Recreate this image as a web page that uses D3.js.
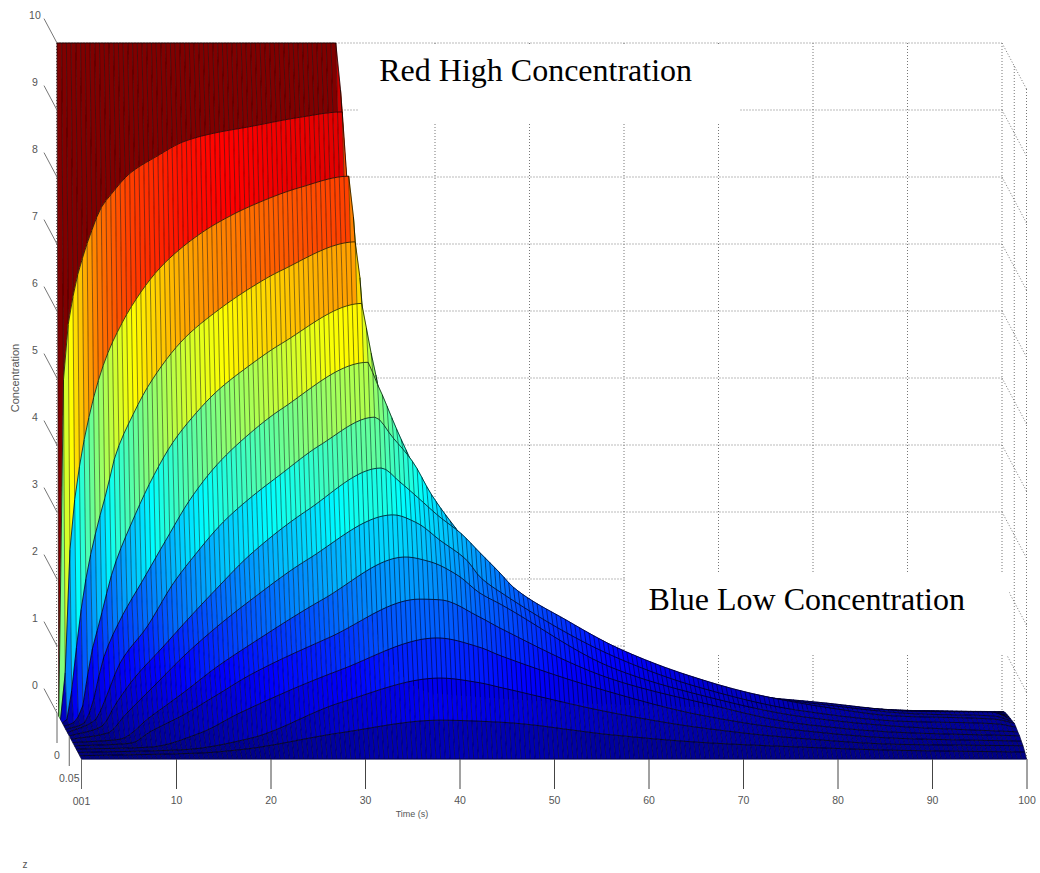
<!DOCTYPE html>
<html><head><meta charset="utf-8">
<style>html,body{margin:0;background:#fff}svg{display:block}</style>
<script src="https://cdnjs.cloudflare.com/ajax/libs/d3/7.8.5/d3.min.js"></script></head>
<body><svg id="c" width="1040" height="873"></svg>
<script>
// each slice: readings [time, concentration] at one depth z
const slice0=[[0,10],[29.5,10],[30,9.3],[30.5,8.2],[31,5],[32,2],[40,.3],[100,0]];
const slice1=[[0,0],[.5,5.02],[1.5,6.26],[2.6,6.88],[3.6,7.29],[4.4,7.57],[5.6,7.8],[7.5,8.1],[10.4,8.36],[13.1,8.57],[16,8.69],[20.2,8.8],[25.5,8.94],[30,9.02],[30.5,8],[31,6],[32,4],[35,2],[40,1.2],[50,.7],[70,.25],[80,.14],[90,.08],[100,.07]];
const slice2=[[0,0],[.5,.7],[1,2.53],[2,3.77],[3.12,4.58],[4.18,5.14],[5.24,5.55],[6.08,5.8],[7.35,6.13],[10.2,6.69],[12.3,6.98],[15.3,7.3],[17.2,7.46],[20.05,7.66],[25.3,7.94],[30.5,8.11],[31.2,7.13],[31.5,6.5],[32,5.5],[33,4.4],[35,3],[40,1.7],[50,.9],[70,.3],[80,.2],[90,.13],[98,.11],[100,.1]];
const slice3=[[0,0],[.5,.05],[1.14,.64],[1.67,1.34],[2.62,2.24],[3.68,2.92],[4.74,3.48],[5.58,3.97],[7.49,4.6],[9.29,5.07],[12.8,5.72],[16.4,6.15],[19.9,6.49],[23,6.74],[31.1,7.18],[31.7,6.27],[32.5,5],[34,3.8],[36,3],[40,2.1],[50,1.1],[70,.4],[80,.25],[90,.17],[98,.15],[100,.12]];
const slice4=[[0,0],[1,.05],[2,.31],[2.75,.99],[3.81,1.58],[5.19,2.33],[7.3,3.08],[9.42,3.72],[11.5,4.23],[13.65,4.62],[16.2,5],[19.7,5.39],[22.9,5.7],[31.6,6.31],[32.2,5.73],[32.7,5.46],[33.4,4.94],[35,4.12],[37.7,2.93],[45,1.7],[50,1.3],[70,.5],[80,.33],[90,.23],[98,.21],[100,.14]];
const slice5=[[0,0],[2,.1],[2.78,.36],[3.94,1.04],[5.74,1.63],[8.17,2.23],[10.7,2.85],[13.15,3.43],[16,3.95],[19.5,4.42],[22.7,4.77],[32,5.48],[32.7,5.24],[33.6,4.96],[34.3,4.72],[35.05,4.47],[37.5,3.72],[40.7,2.75],[50,1.6],[70,.55],[80,.4],[90,.27],[98,.26],[100,.155]];
const slice6=[[0,0],[3,.2],[3.97,.49],[5.56,1.04],[8.41,1.58],[11.2,2.23],[13.3,2.62],[16.45,3.14],[19.3,3.5],[22.5,3.85],[26.7,4.29],[32.5,4.71],[34.4,4.41],[36.6,4.03],[38.4,3.58],[39.4,3.37],[41.2,3.03],[43.6,2.58],[50,1.75],[60,1.05],[70,.62],[80,.42],[90,.28],[98,.25],[100,.17]];
const slice7=[[0,0],[3.5,.15],[4.84,.46],[6.75,.84],[9.92,1.33],[12.8,1.78],[15.6,2.2],[19.1,2.7],[25.2,3.37],[33,4],[35,3.79],[36.8,3.57],[39.2,3.27],[41.4,3.03],[43.5,2.73],[45.6,2.43],[47,2.22],[52.6,1.73],[58.1,1.31],[65.4,.91],[72.7,.62],[80,.43],[87.3,.3],[98,.25],[100,.19]];
const slice8=[[0,0],[4,.1],[5.71,.36],[9.1,.84],[11.85,1.23],[15.45,1.68],[18.95,2.07],[25,2.68],[34.1,3.35],[36.6,3.23],[39.05,2.97],[41.9,2.67],[43.3,2.42],[45.4,2.2],[57.4,1.24],[66.6,.77],[77.1,.43],[87.7,.27],[98,.23],[100,.18]];
const slice9=[[0,0],[5,.05],[8.17,.38],[11.67,.74],[15.26,1.13],[18.75,1.46],[26.5,2.14],[35.2,2.77],[37.8,2.7],[40.7,2.5],[43.1,2.23],[45.2,2.07],[57.2,1.11],[66.4,.71],[77,.39],[87.5,.24],[100,.16]];
const slice10=[[0,0],[6,.04],[8,.21],[11.5,.46],[15.08,.76],[18.6,1.06],[27,1.62],[36.5,2.19],[38.7,2.18],[42.9,1.92],[45,1.76],[57,.99],[66.2,.65],[76.8,.33],[87.4,.2],[100,.15]];
const slice11=[[0,0],[7.8,.03],[13.1,.24],[17.3,.54],[27.9,1.18],[38.2,1.66],[42.7,1.52],[44.8,1.4],[56.8,.84],[66,.51],[76.6,.28],[87.2,.16],[100,.12]];
const slice12=[[0,0],[11.1,.04],[18.2,.21],[27.7,.74],[38.3,1.11],[42.5,1.04],[44.7,.97],[56.6,.59],[65.8,.37],[76.4,.21],[87,.12],[100,.1]];
const slice13=[[0,0],[12.7,.04],[17,.09],[27.5,.34],[38.1,.53],[44.5,.5],[56.4,.31],[65.6,.2],[76.1,.13],[86.8,.08],[100,.055]];
const slice14=[[0,0],[100,0]];
const slices=[slice0,slice1,slice2,slice3,slice4,slice5,slice6,slice7,slice8,slice9,slice10,slice11,slice12,slice13,slice14];
const sliceDepths=[0,.00714,.01429,.02143,.02857,.03571,.04286,.05,.05714,.06429,.07143,.07857,.08571,.09286,.1];
const concentrationTicks=[0,1,2,3,4,5,6,7,8,9,10];
const timeTicks=[10,20,30,40,50,60,70,80,90,100];
const rearGridTimes=[40,50,60,70,80,90];
const depthTicks=[0,.05,.1];
const depthLabels=["0","0.05","001"];
const notes=[{text:"Red High Concentration",t:34.1,c:9.44},{text:"Blue Low Concentration",t:62.6,c:1.54}];

const svg=d3.select("#c");
const xT=d3.scaleLinear().domain([0,100]).range([57,1002]);
const yC=d3.scaleLinear().domain([0,10]).range([713,43]);
const zX=d3.scaleLinear().domain([0,.1]).range([0,24.5]);
const zY=d3.scaleLinear().domain([0,.1]).range([0,46]);
const px=(t,z)=>xT(t)+zX(z), py=(c,z)=>yC(c)+zY(z);
const jet=d3.scaleLinear().domain([0,1.25,3.75,6.25,8.75,10])
  .range(["#000080","#0000ff","#00ffff","#ffff00","#ff0000","#800000"]);

// shape-preserving reading of a slice between its measured points (Fritsch-Carlson)
function reader(s){
  const n=s.length,X=s.map(d=>d[0]),Y=s.map(d=>d[1]);
  const h=[],m=[];for(let i=0;i<n-1;i++){h[i]=X[i+1]-X[i];m[i]=(Y[i+1]-Y[i])/h[i];}
  const g=[m[0]];
  for(let i=1;i<n-1;i++){
    if(m[i-1]*m[i]<=0)g[i]=0;
    else{const a=h[i-1]+2*h[i],b=2*h[i-1]+h[i];g[i]=(a+b)/(a/m[i-1]+b/m[i]);}
  }
  g[n-1]=m[n-2];
  const bis=d3.bisector(d=>d).right;
  return t=>{
    const i=Math.max(0,Math.min(n-2,bis(X,t)-1)),u=(t-X[i])/h[i];
    const u2=u*u,u3=u2*u;
    return (2*u3-3*u2+1)*Y[i]+(u3-2*u2+u)*h[i]*g[i]+(-2*u3+3*u2)*Y[i+1]+(u3-u2)*h[i]*g[i+1];
  };
}
const lookups=slices.map(reader);
const times=d3.range(0,100.25,.5);
const pt=(k,t)=>[px(t,sliceDepths[k]),py(lookups[k](t),sliceDepths[k])];
const line=d3.line();

// rear-plane and right-wall dotted grid
const grid=svg.append("g").attr("fill","none").attr("stroke","#777").attr("stroke-width",1).attr("stroke-dasharray","1 2");
concentrationTicks.slice(1).forEach(c=>{
  grid.append("path").attr("d",line([[xT(0)-.5,yC(c)],[xT(100),yC(c)]]));
  grid.append("path").attr("d",line([[xT(100),yC(c)],[px(100,.1),py(c,.1)]]));
});
grid.append("path").attr("d",line([[xT(0)-.5,yC(10)],[xT(0)-.5,yC(0)]]));
rearGridTimes.forEach(t=>grid.append("path").attr("d",line([[xT(t),yC(10)],[xT(t),yC(0)]])));
depthTicks.forEach(z=>grid.append("path").attr("d",line([[px(100,z),py(10,z)],[px(100,z),py(0,z)]])));

// white label boxes as in the reference, under the surface
[[358,46,382,77],[626,572,383,83]].forEach(b=>svg.append("rect").attr("x",b[0]).attr("y",b[1]).attr("width",b[2]).attr("height",b[3]).attr("fill","#fff"));

// surface: painted rear to front
const surf=svg.append("g").style("filter","blur(.35px)");
for(let k=1;k<slices.length;k++){
  const band=surf.append("g");
  for(let i=0;i+1<times.length;i++){
    const a=times[i],b=times[i+1],col=jet(lookups[k-1](b));
    band.append("path").attr("d",line([pt(k-1,a),pt(k-1,b),pt(k,b),pt(k,a)])+"Z")
      .attr("fill",col).attr("stroke",col).attr("stroke-width",.4);
  }
  band.append("path").attr("fill","none").attr("stroke","#000").attr("stroke-opacity",.62).attr("stroke-width",.75)
    .attr("d",times.map(t=>line([pt(k-1,t),pt(k,t)])).join(""));
  band.append("path").attr("fill","none").attr("stroke","#000").attr("stroke-opacity",.8).attr("stroke-width",.9)
    .attr("d",line(times.map(t=>pt(k-1,t))));
}
surf.append("path").attr("fill","none").attr("stroke","#000050").attr("stroke-width",1.2)
  .attr("d",line(times.map(t=>pt(14,t))));

svg.selectAll("text.note").data(notes).join("text").attr("class","note")
  .attr("x",d=>xT(d.t)).attr("y",d=>yC(d.c))
  .attr("font-family","Liberation Serif").attr("font-size",32).attr("fill","#000").text(d=>d.text);

// axes
const axisFont="Liberation Sans", axisInk="#555";
const timeAxis=d3.axisBottom(d3.scaleLinear().domain([0,100]).range([px(0,.1),px(100,.1)]))
  .tickValues(timeTicks).tickSize(30).tickPadding(8).tickFormat(d3.format("d"));
const ax=svg.append("g").attr("transform",`translate(0,${py(0,.1)})`).call(timeAxis);
ax.select(".domain").remove();
ax.selectAll("line").attr("stroke","#444");
ax.selectAll("text").attr("font-family",axisFont).attr("font-size",10.5).attr("fill",axisInk);

const zg=svg.append("g");
depthTicks.forEach((z,i)=>{
  zg.append("line").attr("x1",px(0,z)).attr("x2",px(0,z)).attr("y1",py(0,z)).attr("y2",py(0,z)+30).attr("stroke","#666");
  zg.append("text").attr("x",px(0,z)).attr("y",py(0,z)+46).attr("text-anchor","middle")
    .attr("font-family",axisFont).attr("font-size",10.5).attr("fill",axisInk).text(depthLabels[i]);
});
const yg=svg.append("g");
concentrationTicks.forEach(c=>{
  yg.append("line").attr("x1",px(0,0)).attr("y1",yC(c)).attr("x2",px(0,-.053)).attr("y2",yC(c)+zY(-.053)).attr("stroke","#777");
  yg.append("text").attr("x",px(0,-.09)).attr("y",yC(c)+zY(-.055)).attr("text-anchor","middle")
    .attr("font-family",axisFont).attr("font-size",10.5).attr("fill",axisInk).attr("dy",".1em").text(c);
});
const lab=(txt,x,y,size,rot)=>svg.append("text").attr("text-anchor","middle").text(txt)
  .attr("transform",`translate(${x},${y})`+(rot?` rotate(${rot})`:""))
  .attr("font-family",axisFont).attr("font-size",size).attr("fill",axisInk);
lab("Time (s)",412,817,9);
lab("Concentration",19,378,11,-90);
lab("z",25,868,10);
</script></body></html>
